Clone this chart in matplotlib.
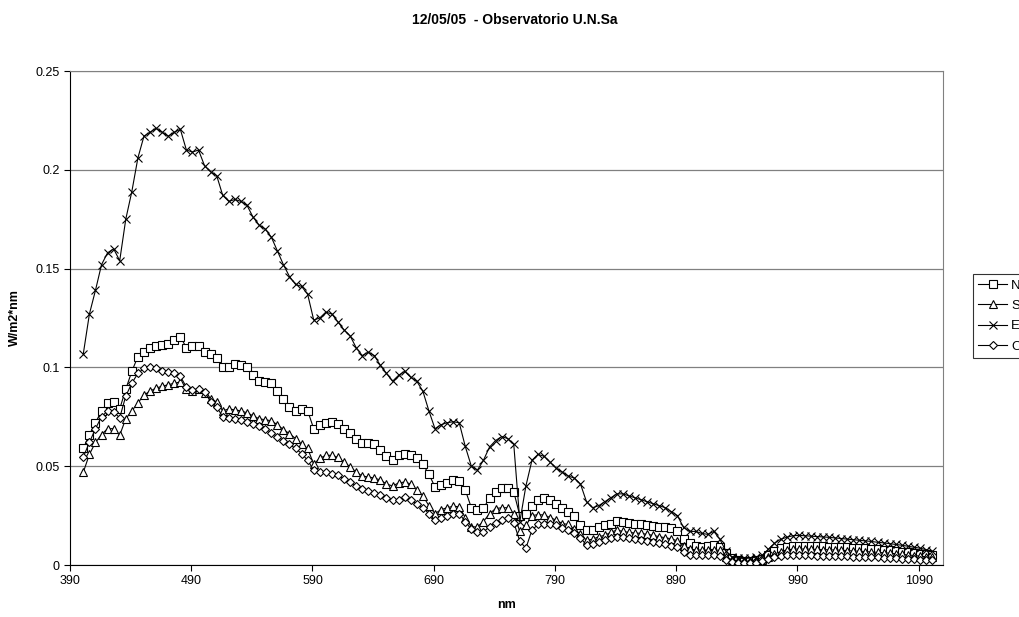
import matplotlib
matplotlib.use("Agg")
import matplotlib.pyplot as plt

plt.rcParams['font.family'] = ['Liberation Sans', 'DejaVu Sans']

# wavelength grid (nm)
wavelength = list(range(401, 1102, 5))

serie_N = [
    0.059, 0.066, 0.072, 0.078, 0.082, 0.0825, 0.079, 0.089, 0.098, 0.1055,
    0.108, 0.110, 0.111, 0.1115, 0.112, 0.114, 0.1155, 0.110, 0.111, 0.111,
    0.108, 0.107, 0.105, 0.100, 0.100, 0.1015, 0.101, 0.100, 0.096, 0.093,
    0.0926, 0.092, 0.088, 0.084, 0.080, 0.078, 0.079, 0.078, 0.069, 0.0707,
    0.072, 0.0724, 0.0715, 0.069, 0.067, 0.064, 0.0615, 0.0615, 0.061, 0.058,
    0.055, 0.053, 0.0555, 0.056, 0.0555, 0.054, 0.051, 0.046, 0.0395, 0.0405,
    0.0415, 0.043, 0.0425, 0.038, 0.029, 0.028, 0.0286, 0.034, 0.037, 0.039,
    0.039, 0.037, 0.025, 0.026, 0.030, 0.033, 0.0337, 0.033, 0.031, 0.029,
    0.027, 0.025, 0.020, 0.0177, 0.0177, 0.019, 0.020, 0.021, 0.0225, 0.022,
    0.0215, 0.021, 0.0205, 0.020, 0.0198, 0.0193, 0.019, 0.0185, 0.017, 0.013,
    0.011, 0.0095, 0.0093, 0.0097, 0.010, 0.009, 0.006, 0.0035, 0.0025, 0.0022,
    0.0022, 0.0025, 0.003, 0.005, 0.007, 0.0085, 0.0092, 0.0095, 0.0096, 0.0097,
    0.0096, 0.0095, 0.0094, 0.0093, 0.0092, 0.0091, 0.0089, 0.0087, 0.0085, 0.0084,
    0.0082, 0.0080, 0.0077, 0.0074, 0.0071, 0.0068, 0.0065, 0.0061, 0.0058, 0.0054,
    0.0050,
]

serie_S = [
    0.047, 0.056, 0.062, 0.066, 0.069, 0.069, 0.0657, 0.074, 0.078, 0.082,
    0.086, 0.088, 0.0895, 0.0905, 0.0912, 0.092, 0.0926, 0.089, 0.088, 0.089,
    0.087, 0.0842, 0.0825, 0.078, 0.079, 0.0785, 0.078, 0.077, 0.0755, 0.074,
    0.0735, 0.073, 0.071, 0.0685, 0.0665, 0.064, 0.061, 0.059, 0.051, 0.054,
    0.0555, 0.0555, 0.0545, 0.052, 0.0497, 0.047, 0.045, 0.0446, 0.044, 0.043,
    0.041, 0.040, 0.0415, 0.042, 0.041, 0.038, 0.035, 0.030, 0.026, 0.028,
    0.029, 0.0297, 0.0295, 0.024, 0.0193, 0.0193, 0.022, 0.026, 0.0285, 0.029,
    0.029, 0.026, 0.017, 0.020, 0.025, 0.0255, 0.0253, 0.024, 0.0227, 0.021,
    0.0205, 0.018, 0.0155, 0.0126, 0.013, 0.0143, 0.015, 0.0165, 0.0177, 0.017,
    0.0165, 0.0162, 0.016, 0.0155, 0.015, 0.0143, 0.0138, 0.0132, 0.0122, 0.0098,
    0.0082, 0.0076, 0.0076, 0.0076, 0.0077, 0.0074, 0.0042, 0.0025, 0.0018, 0.0015,
    0.0015, 0.0018, 0.0024, 0.0038, 0.0055, 0.0068, 0.0076, 0.0080, 0.0081, 0.0081,
    0.0080, 0.0079, 0.0078, 0.0077, 0.0076, 0.0075, 0.0073, 0.0071, 0.0070, 0.0068,
    0.0066, 0.0064, 0.0062, 0.0060, 0.0057, 0.0054, 0.0051, 0.0048, 0.0045, 0.0042,
    0.0038,
]

serie_E = [
    0.107, 0.127, 0.139, 0.152, 0.158, 0.160, 0.154, 0.175, 0.189, 0.206,
    0.217, 0.219, 0.221, 0.219, 0.217, 0.219, 0.2205, 0.210, 0.209, 0.210,
    0.202, 0.199, 0.197, 0.187, 0.184, 0.185, 0.184, 0.182, 0.176, 0.172,
    0.170, 0.166, 0.159, 0.152, 0.146, 0.142, 0.141, 0.137, 0.124, 0.125,
    0.128, 0.127, 0.123, 0.119, 0.116, 0.110, 0.106, 0.1077, 0.106, 0.101,
    0.097, 0.093, 0.096, 0.098, 0.095, 0.093, 0.088, 0.078, 0.069, 0.071,
    0.072, 0.0725, 0.072, 0.060, 0.050, 0.048, 0.053, 0.0597, 0.063, 0.065,
    0.064, 0.061, 0.022, 0.040, 0.053, 0.056, 0.055, 0.052, 0.049, 0.047,
    0.045, 0.044, 0.041, 0.032, 0.029, 0.030, 0.032, 0.034, 0.036, 0.036,
    0.035, 0.034, 0.033, 0.032, 0.031, 0.030, 0.029, 0.027, 0.025, 0.019,
    0.017, 0.017, 0.016, 0.0155, 0.017, 0.013, 0.007, 0.004, 0.0035, 0.0033,
    0.0035, 0.004, 0.005, 0.008, 0.011, 0.013, 0.014, 0.0148, 0.015, 0.0148,
    0.0146, 0.0144, 0.0142, 0.014, 0.0137, 0.0134, 0.0131, 0.0128, 0.0125, 0.0122,
    0.0119, 0.0115, 0.0112, 0.0108, 0.0104, 0.0100, 0.0095, 0.0090, 0.0085, 0.0078,
    0.0070,
]

serie_O = [
    0.0547, 0.062, 0.069, 0.075, 0.078, 0.0774, 0.0745, 0.0855, 0.092, 0.097,
    0.0995, 0.100, 0.0995, 0.098, 0.0975, 0.097, 0.0955, 0.090, 0.0888, 0.089,
    0.0878, 0.0825, 0.080, 0.075, 0.0745, 0.074, 0.0735, 0.0725, 0.0716, 0.0705,
    0.069, 0.067, 0.065, 0.063, 0.061, 0.059, 0.0564, 0.053, 0.048, 0.047,
    0.047, 0.046, 0.0453, 0.0435, 0.042, 0.040, 0.0385, 0.0375, 0.0365, 0.0352,
    0.0337, 0.033, 0.033, 0.0342, 0.0328, 0.031, 0.029, 0.026, 0.0227, 0.024,
    0.025, 0.026, 0.026, 0.022, 0.018, 0.0168, 0.0168, 0.0193, 0.0215, 0.023,
    0.0236, 0.0215, 0.012, 0.0085, 0.0177, 0.0205, 0.021, 0.021, 0.020, 0.0188,
    0.0178, 0.016, 0.0138, 0.010, 0.0108, 0.0118, 0.0128, 0.0137, 0.0143, 0.014,
    0.0135, 0.013, 0.0126, 0.012, 0.0115, 0.011, 0.0105, 0.0098, 0.009, 0.0065,
    0.0053, 0.005, 0.005, 0.005, 0.005, 0.0048, 0.0025, 0.0015, 0.001, 0.0008,
    0.0008, 0.001, 0.0018, 0.003, 0.0042, 0.0047, 0.005, 0.005, 0.005, 0.005,
    0.0049, 0.0048, 0.0047, 0.0046, 0.0045, 0.0045, 0.0044, 0.0043, 0.0042, 0.0041,
    0.0040, 0.0039, 0.0037, 0.0035, 0.0034, 0.0032, 0.0030, 0.0029, 0.0027, 0.0025,
    0.0023,
]

x_ticks = [390, 490, 590, 690, 790, 890, 990, 1090]
y_ticks = [0, 0.05, 0.1, 0.15, 0.2, 0.25]
y_tick_labels = ["0", "0.05", "0.1", "0.15", "0.2", "0.25"]
series_names = ["N", "S", "E", "O"]

fig = plt.figure(figsize=(10.2, 6.17), dpi=100)
ax = fig.add_axes([70/1020, 1-565/617, (943-70)/1020, (565-71)/617])

styles = [
    dict(marker='s', markerfacecolor='white', markersize=5.3),
    dict(marker='^', markerfacecolor='white', markersize=5.8),
    dict(marker='x', markersize=5.8),
    dict(marker='D', markerfacecolor='white', markersize=4.4),
]
for name, vals, st in zip(series_names, [serie_N, serie_S, serie_E, serie_O], styles):
    ax.plot(wavelength, vals, color='black', linewidth=0.8,
            markeredgecolor='black', markeredgewidth=0.8, label=name, **st)

ax.set_xlim(390, 1110)
ax.set_ylim(0, 0.25)
ax.set_xticks(x_ticks)
ax.set_xticklabels([str(t) for t in x_ticks])
ax.set_yticks(y_ticks)
ax.set_yticklabels(y_tick_labels)
ax.tick_params(axis='both', labelsize=9, direction='out', length=4, width=0.8)
ax.yaxis.grid(True, color='#808080', linewidth=0.9)
ax.set_axisbelow(True)
for s in ['top', 'right']:
    ax.spines[s].set_color('#808080')
for s in ['left', 'bottom']:
    ax.spines[s].set_color('black')

ax.set_xlabel('nm', fontsize=9, fontweight='bold', labelpad=8)
ax.set_ylabel('W/m2*nm', fontsize=9, fontweight='bold', labelpad=10)
fig.text(0.505, 1-20/617, '12/05/05  - Observatorio U.N.Sa', ha='center', va='center',
         fontsize=10, fontweight='bold')

leg = ax.legend(loc='upper left', bbox_to_anchor=(973/1020, 1-274/617),
                bbox_transform=fig.transFigure, frameon=True, fancybox=False,
                edgecolor='black', fontsize=9.5, handlelength=2.2, handletextpad=0.3,
                borderpad=0.4, labelspacing=0.62, borderaxespad=0)
leg.get_frame().set_linewidth(0.8)

fig.savefig('out.png', dpi=100)
